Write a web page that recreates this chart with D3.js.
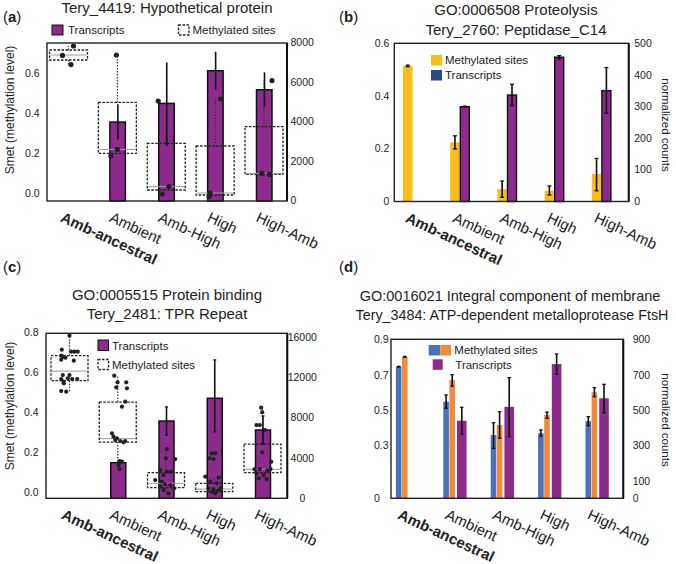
<!DOCTYPE html>
<html>
<head>
<meta charset="utf-8">
<script src="https://cdn.jsdelivr.net/npm/d3@7"></script>
<style>
body{margin:0;background:#fff;}
svg text{font-family:"Liberation Sans",Arial,Helvetica,sans-serif;fill:#222;}
</style>
</head>
<body>
<div id="chart"></div>
<script>
var categories=["Amb-ancestral","Ambient","Amb-High","High","High-Amb"];

// (a) Tery_4419
var aTrans=[null,3960,4900,6550,5590],
    aTransLo=[null,3090,2750,5590,4740],
    aTransHi=[null,4860,6970,7510,6470];
var aQ1=[0.665,0.198,0.015,-0.01,0.093],
    aMed=[0.69,0.218,0.032,0.0,0.098],
    aQ3=[0.715,0.453,0.248,0.235,0.332],
    aWhLo=[0.642,0.185,-0.005,-0.018,0.093],
    aWhHi=[0.735,0.69,0.46,0.47,0.562];
var aPoints=[[0.735,0.688,0.642],[0.69,0.185,0.218],[0.46,-0.005,0.032],[0.47,0.0,-0.018],[0.098,0.093,0.562]];
var aJitter=[[5,-6,2.5],[-1,-6.5,0],[-8,-4,2.5],[5.5,-5,-6],[-2,5.5,8]];

// (b) Tery_2760
var bMeth=[0.514,0.223,0.045,0.039,0.103],
    bMethLo=[0.511,0.198,0.014,0.023,0.039],
    bMethHi=[0.517,0.248,0.076,0.057,0.162];
var bTrans=[null,299,336,456,350],
    bTransLo=[null,297,302,450,278],
    bTransHi=[null,301,370,461,423];

// (c) Tery_2481
var cTrans=[null,3510,7650,9910,6760],
    cTransLo=[null,null,6260,6590,5370],
    cTransHi=[null,null,9050,13720,8150];
var cQ1=[0.555,0.248,0.02,0.0,0.095],
    cMed=[0.603,0.265,0.042,0.013,0.112],
    cQ3=[0.68,0.448,0.095,0.042,0.238],
    cWhLo=[0.50,0.113,-0.008,-0.008,0.063],
    cWhHi=[0.80,0.58,0.213,0.075,0.42];
var cPoints=[
  [0.78,0.71,0.70,0.70,0.70,0.68,0.675,0.67,0.66,0.655,0.583,0.583,0.563,0.567,0.563,0.563,0.55,0.542,0.503,0.50],
  [0.58,0.522,0.547,0.547,0.517,0.425,0.45,0.292,0.275,0.267,0.253,0.253,0.247,0.258,0.153,0.15,0.133,0.113],
  [0.213,0.167,0.163,0.108,0.1,0.1,0.083,0.058,0.05,0.037,0.033,0.017,0.025,0.008,-0.008],
  [0.192,0.192,0.167,0.163,0.075,0.07,0.05,0.042,0.017,0.013,0.008,0.017,0.0,-0.008,0.003],
  [0.42,0.397,0.333,0.333,0.308,0.197,0.15,0.113,0.105,0.113,0.092,0.083,0.067,0.063,0.112]];
var cJitter=[
  [0,-7.7,1.7,5,8.3,-8.3,-6.7,-4,-8.3,4.3,-6.7,0,-8.3,-1.7,2.7,7.7,-6,-5.7,-8.3,-3.3],
  [-3.5,-1.5,-0.2,8.5,9.2,4.2,7.5,-5.8,-4.2,-0.8,2.5,7.5,5.8,-2.5,1.8,4.2,0.8,1.8],
  [0.9,-0.1,9.2,-5.8,0.9,4.9,-2.5,-10.8,-4.1,-0.8,4.2,8.2,-5.8,-2.5,2.5],
  [-2.3,1,-4.7,-0.7,-9,4.3,-4,2.7,-5.7,-0.7,4.3,6.7,-2.3,1,2.7],
  [-1.3,-0.3,-6,-2.7,2.3,-0.3,8.7,-2.7,4.7,8,-6,1.3,-3.7,4,-8]];

// (d) Tery_3484
var dMethA=[0.745,0.547,0.358,0.368,0.437],
    dMethALo=[0.743,0.51,0.283,0.353,0.411],
    dMethAHi=[0.747,0.585,0.428,0.387,0.462];
var dMethB=[0.801,0.67,0.415,0.471,0.6],
    dMethBLo=[0.799,0.635,0.34,0.453,0.575],
    dMethBHi=[0.803,0.70,0.49,0.488,0.626];
var dTrans=[null,439,518,760,566],
    dTransLo=[null,364,349,702,484],
    dTransHi=[null,515,683,817,645];

var purple="#8c2b8d",yellow="#fbbd18",navy="#2b4a82",blue="#4a72b9",orange="#f28a3a";
var width=676,height=564;

var svg=d3.select("#chart").append("svg")
    .attr("width",width)
    .attr("height",height);

// helpers
function frame(f){
    svg.append("rect")
        .attr("x",f.x0).attr("y",f.y0)
        .attr("width",f.x1-f.x0).attr("height",f.y1-f.y0)
        .attr("fill","none").attr("stroke","#222").attr("stroke-width",1.4);
    svg.append("line")
        .attr("x1",f.x1).attr("x2",f.x1).attr("y1",f.y0).attr("y2",f.y1)
        .attr("stroke","#111").attr("stroke-width",2);
}
function axisText(g,size){
    g.select(".domain").remove();
    g.selectAll("text").style("font-size",size+"px").attr("fill","#222");
}
function xLabels(x,yb,dx){
    categories.forEach(function(c){
        svg.append("text")
            .attr("transform","translate("+(x(c)+dx)+","+(yb+20)+") rotate(25)")
            .style("font-size","15px")
            .style("font-weight",c=="Amb-ancestral"?"bold":"normal")
            .text(c);
    });
}
function panelLabel(x,y,l){
    var t=svg.append("text").attr("x",x).attr("y",y).style("font-size","15px");
    t.append("tspan").text("(");
    t.append("tspan").style("font-weight","bold").text(l);
    t.append("tspan").text(")");
}
function title(x,y,s,size){
    svg.append("text").attr("x",x).attr("y",y).attr("text-anchor","middle")
        .style("font-size",(size||15)+"px").attr("fill","#333").text(s);
}
function errBar(x,yLo,yHi,cap){
    svg.append("line").attr("x1",x).attr("x2",x).attr("y1",yLo).attr("y2",yHi)
        .attr("stroke","#111").attr("stroke-width",1.6);
    if(cap>0){
        [yLo,yHi].forEach(function(yy){
            svg.append("line").attr("x1",x-cap/2).attr("x2",x+cap/2).attr("y1",yy).attr("y2",yy)
                .attr("stroke","#111").attr("stroke-width",1.3);
        });
    }
}
function legendText(x,y,s){
    svg.append("text").attr("x",x).attr("y",y).style("font-size","11.5px").text(s);
}
function boxPlot(x,yL,q1,med,q3,wlo,whi,pts,jit,half,r){
    categories.forEach(function(c,i){
        var cx=x(c);
        svg.append("line").attr("x1",cx).attr("x2",cx).attr("y1",yL(q3[i])).attr("y2",yL(whi[i]))
            .attr("stroke","#333").attr("stroke-width",1.2).attr("stroke-dasharray","1.5,1.5");
        svg.append("line").attr("x1",cx).attr("x2",cx).attr("y1",yL(q1[i])).attr("y2",yL(wlo[i]))
            .attr("stroke","#333").attr("stroke-width",1.2).attr("stroke-dasharray","1.5,1.5");
        svg.append("rect")
            .attr("x",cx-half).attr("y",yL(q3[i]))
            .attr("width",half*2).attr("height",yL(q1[i])-yL(q3[i]))
            .attr("fill","none").attr("stroke","#222").attr("stroke-width",1.3)
            .attr("stroke-dasharray","2.5,1.5");
        svg.append("line").attr("x1",cx-half+1).attr("x2",cx+half-1)
            .attr("y1",yL(med[i])).attr("y2",yL(med[i]))
            .attr("stroke","#999").attr("stroke-width",1);
    });
    categories.forEach(function(c,i){
        svg.selectAll(null).data(pts[i]).enter().append("circle")
            .attr("cx",function(d,j){return x(c)+jit[i][j];})
            .attr("cy",function(d){return yL(d);})
            .attr("r",r).attr("fill","#222");
    });
}
var countFmt=d3.format("d");

// ---------------- (a) ----------------
var fa={x0:47,x1:287,y0:43,y1:201};
var xa=d3.scalePoint().domain(categories).range([68.5,264]);
var yaL=d3.scaleLinear().domain([-0.04,0.75]).range([fa.y1,fa.y0]);
var yaR=d3.scaleLinear().domain([0,8000]).range([200.5,42]);

categories.forEach(function(c,i){
    if(aTrans[i]==null) return;
    svg.append("rect").attr("x",xa(c)-7.5).attr("y",yaR(aTrans[i]))
        .attr("width",15.5).attr("height",fa.y1-yaR(aTrans[i]))
        .attr("fill",purple).attr("stroke","#111").attr("stroke-width",1.5);
});
boxPlot(xa,yaL,aQ1,aMed,aQ3,aWhLo,aWhHi,aPoints,aJitter,19,2.6);
categories.forEach(function(c,i){
    if(aTrans[i]==null) return;
    errBar(xa(c)+0.5,yaR(aTransLo[i]),yaR(aTransHi[i]),0);
});
frame(fa);
svg.append("g").attr("transform","translate("+fa.x0+",0)")
    .call(d3.axisLeft(yaL).tickValues([0,0.2,0.4,0.6]).tickFormat(d3.format(".1f")).tickSize(0).tickPadding(7.5))
    .call(axisText,10.5);
svg.append("g").attr("transform","translate("+fa.x1+",0)")
    .call(d3.axisRight(yaR).tickValues([0,2000,4000,6000,8000]).tickFormat(countFmt).tickSize(0).tickPadding(3.5))
    .call(axisText,10.5);
xLabels(xa,fa.y1,-9);
svg.append("text").attr("transform","translate(14,110) rotate(-90)")
    .attr("text-anchor","middle").style("font-size","12px").text("Smet (methylation level)");
panelLabel(3,22,"a");
title(167,12.5,"Tery_4419: Hypothetical protein");
svg.append("rect").attr("x",52).attr("y",25).attr("width",11).attr("height",10)
    .attr("fill",purple).attr("stroke","#111").attr("stroke-width",1);
legendText(68,34,"Transcripts");
svg.append("rect").attr("x",178.5).attr("y",25).attr("width",10.5).attr("height",10)
    .attr("fill","none").attr("stroke","#222").attr("stroke-width",1.3).attr("stroke-dasharray","2.5,1.5");
legendText(192.5,34,"Methylated sites");

// ---------------- (b) ----------------
var fb={x0:394.3,x1:628.7,y0:43.3,y1:201.5};
var xb=d3.scalePoint().domain(categories).range([412.5,601.3]);
var ybL=d3.scaleLinear().domain([0,0.6]).range([201,fb.y0]);
var ybR=d3.scaleLinear().domain([0,500]).range([201,fb.y0]);

categories.forEach(function(c,i){
    var cx=xb(c);
    svg.append("rect").attr("x",cx-9.5).attr("y",ybL(bMeth[i]))
        .attr("width",9.5).attr("height",fb.y1-ybL(bMeth[i])).attr("fill",yellow);
    errBar(cx-4.75,ybL(bMethLo[i]),ybL(bMethHi[i]),4);
    if(bTrans[i]==null) return;
    svg.append("rect").attr("x",cx+0.6).attr("y",ybR(bTrans[i]))
        .attr("width",9).attr("height",fb.y1-ybR(bTrans[i]))
        .attr("fill",purple).attr("stroke","#111").attr("stroke-width",1.4);
    errBar(cx+5.1,ybR(bTransLo[i]),ybR(bTransHi[i]),4);
});
frame(fb);
svg.append("g").attr("transform","translate("+fb.x0+",0)")
    .call(d3.axisLeft(ybL).tickValues([0,0.2,0.4,0.6]).tickFormat(function(d){return d==0?"0":d3.format(".1f")(d);}).tickSize(0).tickPadding(5))
    .call(axisText,10.5);
svg.append("g").attr("transform","translate("+fb.x1+",0)")
    .call(d3.axisRight(ybR).tickValues([0,100,200,300,400,500]).tickFormat(countFmt).tickSize(0).tickPadding(5.5))
    .call(axisText,10.5);
xLabels(xb,fb.y1,-8);
svg.append("text").attr("transform","translate(662,125) rotate(90)")
    .attr("text-anchor","middle").style("font-size","11.5px").text("normalized counts");
panelLabel(339,22,"b");
title(516,15,"GO:0006508 Proteolysis");
title(516,35,"Tery_2760: Peptidase_C14");
svg.append("rect").attr("x",431).attr("y",55).attr("width",11).attr("height",10.5).attr("fill",yellow);
legendText(445,64,"Methylated sites");
svg.append("rect").attr("x",431).attr("y",70).attr("width",11).attr("height",10.5).attr("fill",navy);
legendText(445,79,"Transcripts");

// ---------------- (c) ----------------
var fc={x0:46,x1:287.3,y0:333.3,y1:498.3};
var xc=d3.scalePoint().domain(categories).range([69.5,262.5]);
var ycL=d3.scaleLinear().domain([-0.033,0.792]).range([fc.y1,fc.y0]);
var ycR=d3.scaleLinear().domain([0,16000]).range([498,337]);

categories.forEach(function(c,i){
    if(cTrans[i]==null) return;
    svg.append("rect").attr("x",xc(c)-7).attr("y",ycR(cTrans[i]))
        .attr("width",15).attr("height",fc.y1-ycR(cTrans[i]))
        .attr("fill",purple).attr("stroke","#111").attr("stroke-width",1.5);
});
boxPlot(xc,ycL,cQ1,cMed,cQ3,cWhLo,cWhHi,cPoints,cJitter,18.5,2.1);
categories.forEach(function(c,i){
    if(cTransLo[i]==null) return;
    errBar(xc(c)+0.5,ycR(cTransLo[i]),ycR(cTransHi[i]),3);
});
// cover the whisker overflow above the frame
svg.append("rect").attr("x",fc.x0).attr("y",fc.y0-8).attr("width",fc.x1-fc.x0).attr("height",8).attr("fill","#fff");
frame(fc);
svg.append("g").attr("transform","translate("+fc.x0+",0)")
    .call(d3.axisLeft(ycL).tickValues([0,0.2,0.4,0.6,0.8]).tickFormat(d3.format(".1f")).tickSize(0).tickPadding(7.5))
    .call(axisText,10.5);
svg.append("g").attr("transform","translate("+fc.x1+",0)")
    .call(d3.axisRight(ycR).tickValues([0,4000,8000,12000,16000]).tickFormat(countFmt).tickSize(0))
    .call(axisText,10.5)
    .call(function(g){g.selectAll("text").attr("x",15).attr("text-anchor","middle");});
xLabels(xc,fc.y1,-9);
svg.append("text").attr("transform","translate(14,406) rotate(-90)")
    .attr("text-anchor","middle").style("font-size","12px").text("Smet (methylation level)");
panelLabel(3,272,"c");
title(167,300,"GO:0005515 Protein binding");
title(167,319,"Tery_2481: TPR Repeat");
svg.append("rect").attr("x",98).attr("y",340).attr("width",10.5).attr("height",10.5)
    .attr("fill",purple).attr("stroke","#111").attr("stroke-width",1);
legendText(112,349.5,"Transcripts");
svg.append("rect").attr("x",98).attr("y",359.5).attr("width",10.5).attr("height",10)
    .attr("fill","none").attr("stroke","#222").attr("stroke-width",1.3).attr("stroke-dasharray","2.5,1.5");
legendText(112,368.5,"Methylated sites");

// ---------------- (d) ----------------
var fd={x0:391,x1:623.3,y0:339.3,y1:498.3};
var xd=d3.scalePoint().domain(categories).range([404.8,594.4]);
var ydL=d3.scaleLinear().domain([0,0.9]).range([fd.y1,fd.y0]);
var ydR=d3.scaleLinear().domain([0,900]).range([fd.y1,fd.y0]);

categories.forEach(function(c,i){
    var cx=xd(c);
    svg.append("rect").attr("x",cx-8.9).attr("y",ydL(dMethA[i]))
        .attr("width",5.6).attr("height",fd.y1-ydL(dMethA[i])).attr("fill",blue);
    errBar(cx-6.1,ydL(dMethALo[i]),ydL(dMethAHi[i]),3.5);
    svg.append("rect").attr("x",cx-2.8).attr("y",ydL(dMethB[i]))
        .attr("width",5.6).attr("height",fd.y1-ydL(dMethB[i])).attr("fill",orange);
    errBar(cx,ydL(dMethBLo[i]),ydL(dMethBHi[i]),3.5);
    if(dTrans[i]==null) return;
    svg.append("rect").attr("x",cx+4.8).attr("y",ydR(dTrans[i]))
        .attr("width",9.6).attr("height",fd.y1-ydR(dTrans[i])).attr("fill",purple);
    errBar(cx+9.6,ydR(dTransLo[i]),ydR(dTransHi[i]),3.5);
});
frame(fd);
svg.append("g").attr("transform","translate("+fd.x0+",0)")
    .call(d3.axisLeft(ydL).tickValues([0,0.3,0.5,0.7,0.9]).tickFormat(function(d){return d==0?"0":d3.format(".1f")(d);}).tickSize(0))
    .call(axisText,10.5)
    .call(function(g){g.selectAll("text").attr("x",-17).attr("text-anchor","start");});
svg.append("g").attr("transform","translate("+fd.x1+",0)")
    .call(d3.axisRight(ydR).tickValues([0,100,300,500,700,900]).tickFormat(countFmt).tickSize(0).tickPadding(9.4))
    .call(axisText,10.5);
xLabels(xd,fd.y1,-8);
svg.append("text").attr("transform","translate(662,420) rotate(90)")
    .attr("text-anchor","middle").style("font-size","11.5px").text("normalized counts");
panelLabel(339,272,"d");
title(510,301,"GO:0016021 Integral component of membrane",14.5);
title(512,320,"Tery_3484: ATP-dependent metalloprotease FtsH",14.3);
svg.append("rect").attr("x",428.7).attr("y",345).attr("width",11.6).attr("height",10.5).attr("fill",blue);
svg.append("rect").attr("x",440.3).attr("y",345).attr("width",10.7).attr("height",10.5).attr("fill",orange);
legendText(454.3,354,"Methylated sites");
svg.append("rect").attr("x",432.7).attr("y",359.3).attr("width",10).attr("height",10.5).attr("fill",purple);
legendText(455.3,368.5,"Transcripts");
</script>
</body>
</html>
